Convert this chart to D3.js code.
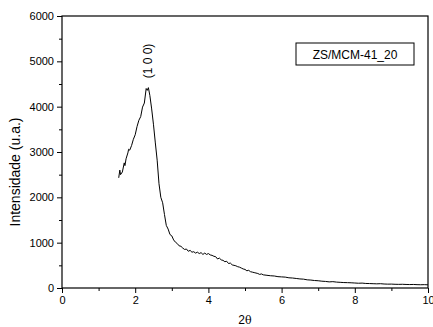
<!DOCTYPE html>
<html><head><meta charset="utf-8">
<script src="https://cdn.jsdelivr.net/npm/d3@7"></script>
<style>body{margin:0;background:#fff}svg{display:block}text{font-family:Arial,"Liberation Sans",sans-serif;fill:#000}</style>
</head><body>
<script>
const twoTheta = [1.55,1.58,1.60,1.65,1.70,1.72,1.75,1.80,1.82,1.85,1.90,1.95,2.00,2.05,2.10,2.15,2.20,2.25,2.30,2.33,2.36,2.40,2.45,2.50,2.55,2.60,2.65,2.70,2.75,2.80,2.85,2.90,2.95,3.00,3.05,3.10,3.15,3.20,3.25,3.30,3.35,3.40,3.45,3.50,3.55,3.60,3.65,3.70,3.75,3.80,3.85,3.90,3.95,4.00,4.05,4.10,4.15,4.20,4.25,4.30,4.35,4.40,4.45,4.50,4.55,4.60,4.65,4.70,4.75,4.80,4.85,4.90,4.95,5.00,5.05,5.10,5.15,5.20,5.25,5.30,5.35,5.40,5.45,5.50,5.6,5.7,5.8,5.9,6.0,6.1,6.2,6.3,6.4,6.5,6.6,6.7,6.8,6.9,7.0,7.1,7.2,7.3,7.4,7.5,7.6,7.7,7.8,7.9,8.0,8.1,8.2,8.3,8.4,8.5,8.6,8.7,8.8,8.9,9.0,9.1,9.2,9.3,9.4,9.5,9.6,9.7,9.8,9.9,10.0];
const intensity = [2430,2600,2500,2560,2760,2700,2850,2980,3060,3040,3140,3280,3380,3560,3700,3780,3990,4080,4400,4360,4420,4250,3950,3600,3200,2820,2300,2000,1880,1620,1380,1300,1180,1150,1060,1010,980,930,920,880,850,860,810,830,790,800,770,790,760,780,740,770,740,760,730,720,700,690,640,660,620,610,580,590,540,550,510,500,490,470,460,440,420,410,380,390,360,350,340,330,320,300,310,290,280,270,265,250,245,240,225,220,210,200,195,180,175,165,160,150,145,135,140,130,125,120,118,115,110,105,108,100,98,95,92,95,88,85,86,82,80,82,78,76,78,74,72,74,70];
const xTicks = [0,2,4,6,8,10];
const yTicks = [0,1000,2000,3000,4000,5000,6000];
const legendLabel = "ZS/MCM-41_20";
const peakLabel = "(1 0 0)";
const peakPos = {x:2.35, y:4500};

const W=433,H=327;
const svg=d3.select("body").append("svg").attr("width",W).attr("height",H);
const x=d3.scaleLinear().domain([0,10]).range([62,428]);
const y=d3.scaleLinear().domain([0,6000]).range([288,16]);

// frame
svg.append("rect").attr("x",x(0)).attr("y",y(6000)).attr("width",x(10)-x(0)).attr("height",y(0)-y(6000))
  .attr("fill","none").attr("stroke","#000").attr("stroke-width",1.2);

// axes
const xa=svg.append("g").attr("transform",`translate(0,${y(0)})`)
  .call(d3.axisBottom(x).tickValues(xTicks).tickSize(5).tickPadding(3).tickFormat(d3.format("d")));
const xm=svg.append("g").attr("transform",`translate(0,${y(0)})`)
  .call(d3.axisBottom(x).tickValues([1,3,5,7,9]).tickSize(3).tickFormat(""));
const ya=svg.append("g").attr("transform",`translate(${x(0)},0)`)
  .call(d3.axisLeft(y).tickValues(yTicks).tickSize(5).tickPadding(3).tickFormat(d3.format("d")));
const ym=svg.append("g").attr("transform",`translate(${x(0)},0)`)
  .call(d3.axisLeft(y).tickValues([500,1500,2500,3500,4500,5500]).tickSize(3).tickFormat(""));
[xa,xm,ya,ym].forEach(g=>{g.select(".domain").remove();g.selectAll("line").attr("stroke","#000").attr("stroke-width",1);g.selectAll("text").attr("font-size",11).attr("font-family","Arial, 'Liberation Sans', sans-serif").attr("fill","#222");});

// curve
svg.append("path").datum(twoTheta.map((d,i)=>[d,intensity[i]]))
  .attr("d",d3.line().x(d=>x(d[0])).y(d=>y(d[1])))
  .attr("fill","none").attr("stroke","#000").attr("stroke-width",1);

// peak label
svg.append("text").attr("transform",`translate(${x(peakPos.x)+4},${y(peakPos.y)-23}) rotate(-90)`)
  .attr("text-anchor","middle").attr("font-size",12).text(peakLabel);

// legend
svg.append("rect").attr("x",296).attr("y",43).attr("width",118).attr("height",22)
  .attr("fill","#fff").attr("stroke","#000").attr("stroke-width",1);
svg.append("text").attr("x",355).attr("y",58.5).attr("text-anchor","middle").attr("font-size",12).text(legendLabel);

// axis titles
svg.append("text").attr("transform","translate(20,172) rotate(-90)").attr("text-anchor","middle").attr("font-size",14).text("Intensidade (u.a.)");
const xt=svg.append("text").attr("x",245).attr("y",324).attr("text-anchor","middle").attr("font-size",12);
xt.append("tspan").text("2");
xt.append("tspan").attr("font-size",11).attr("font-family","DejaVu Serif, serif").text("θ");
</script>
</body></html>
